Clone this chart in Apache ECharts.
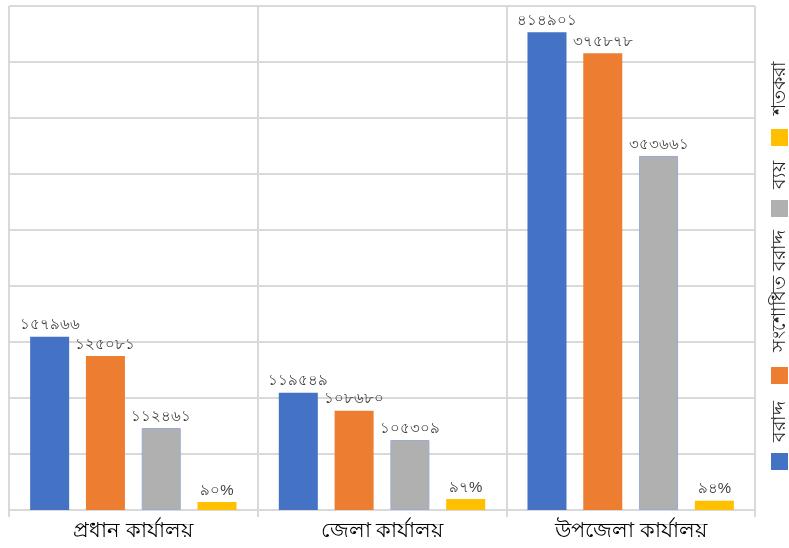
<!DOCTYPE html>
<html>
<head>
<meta charset="utf-8">
<script src="https://cdn.jsdelivr.net/npm/echarts@6/dist/echarts.min.js"></script>
<style>
  html, body { margin: 0; padding: 0; background: #fff; }
  #chart { width: 789px; height: 548px; }
</style>
</head>
<body>
<div id="chart"></div>
<script>
const categories = ["প্রধান কার্যালয়", "জেলা কার্যালয়", "উপজেলা কার্যালয়"];
const seriesNames = ["বরাদ্দ", "সংশোধিত বরাদ্দ", "ব্যয়", "শতকরা"];

// printed value labels
const allocation = [157966, 119549, 414901];
const revised = [125081, 108680, 375878];
const expense = [112461, 105309, 353661];
const percent = [90, 97, 94];

// bar heights as drawn (hidden axis, 50000 per gridline)
const allocationBar = [154700, 104700, 426500];
const revisedBar = [137500, 88700, 407800];
const expenseBar = [73200, 62500, 316100];
const percentBar = [7100, 9800, 8300];

const colors = ["#4472C4", "#ED7D31", "#B0B0B0", "#FFC000"];
const bnDigits = "০১২৩৪৫৬৭৮৯";
const toBn = (n) => String(n).replace(/\d/g, (d) => bnDigits[d]);

const chart = echarts.init(document.getElementById("chart"));

const makeSeries = (idx, bars, labels, suffix) => ({
  name: seriesNames[idx],
  type: "bar",
  data: bars,
  barGap: "43%",
  barCategoryGap: "17%",
  itemStyle: idx === 2
    ? { color: colors[idx], borderColor: "#9AAAD6", borderWidth: 1 }
    : { color: colors[idx] },
  label: {
    show: true,
    position: "top",
    distance: 4,
    color: "#404040",
    fontSize: 15,
    formatter: (p) => toBn(labels[p.dataIndex]) + suffix,
  },
});

const legendTops = [453, 367, 200, 129];
const legendTextCenters = [421, 291, 175, 88];

const option = {
  animation: false,
  grid: { left: 9, right: 34, top: 6, bottom: 38 },
  xAxis: {
    type: "category",
    data: categories,
    axisLine: { lineStyle: { color: "#D9D9D9", width: 2 } },
    axisTick: { show: true, length: 7, lineStyle: { color: "#D9D9D9", width: 2 } },
    splitLine: { show: true, lineStyle: { color: "#D9D9D9", width: 2 } },
    axisLabel: { color: "#000", fontSize: 21, margin: 11 },
  },
  yAxis: {
    type: "value",
    min: 0,
    max: 450000,
    interval: 50000,
    axisLabel: { show: false },
    axisLine: { show: false },
    axisTick: { show: false },
    splitLine: { lineStyle: { color: "#D9D9D9", width: 2 } },
  },
  legend: seriesNames.map((name, i) => ({
    data: [name],
    orient: "vertical",
    left: 771,
    top: legendTops[i],
    padding: 0,
    itemWidth: 17,
    itemHeight: 17,
    itemGap: 0,
    icon: "rect",
    itemStyle: { borderWidth: 0 },
    formatter: () => "",
    selectedMode: false,
  })),
  graphic: seriesNames.map((name, i) => ({
    type: "text",
    x: 780,
    y: legendTextCenters[i],
    rotation: Math.PI / 2,
    style: {
      text: name,
      fill: "#262626",
      fontSize: 19,
      align: "center",
      verticalAlign: "middle",
    },
  })),
  series: [
    makeSeries(0, allocationBar, allocation, ""),
    makeSeries(1, revisedBar, revised, ""),
    makeSeries(2, expenseBar, expense, ""),
    makeSeries(3, percentBar, percent, "%"),
  ],
};

chart.setOption(option);
window.addEventListener("resize", () => chart.resize());
</script>
</body>
</html>
